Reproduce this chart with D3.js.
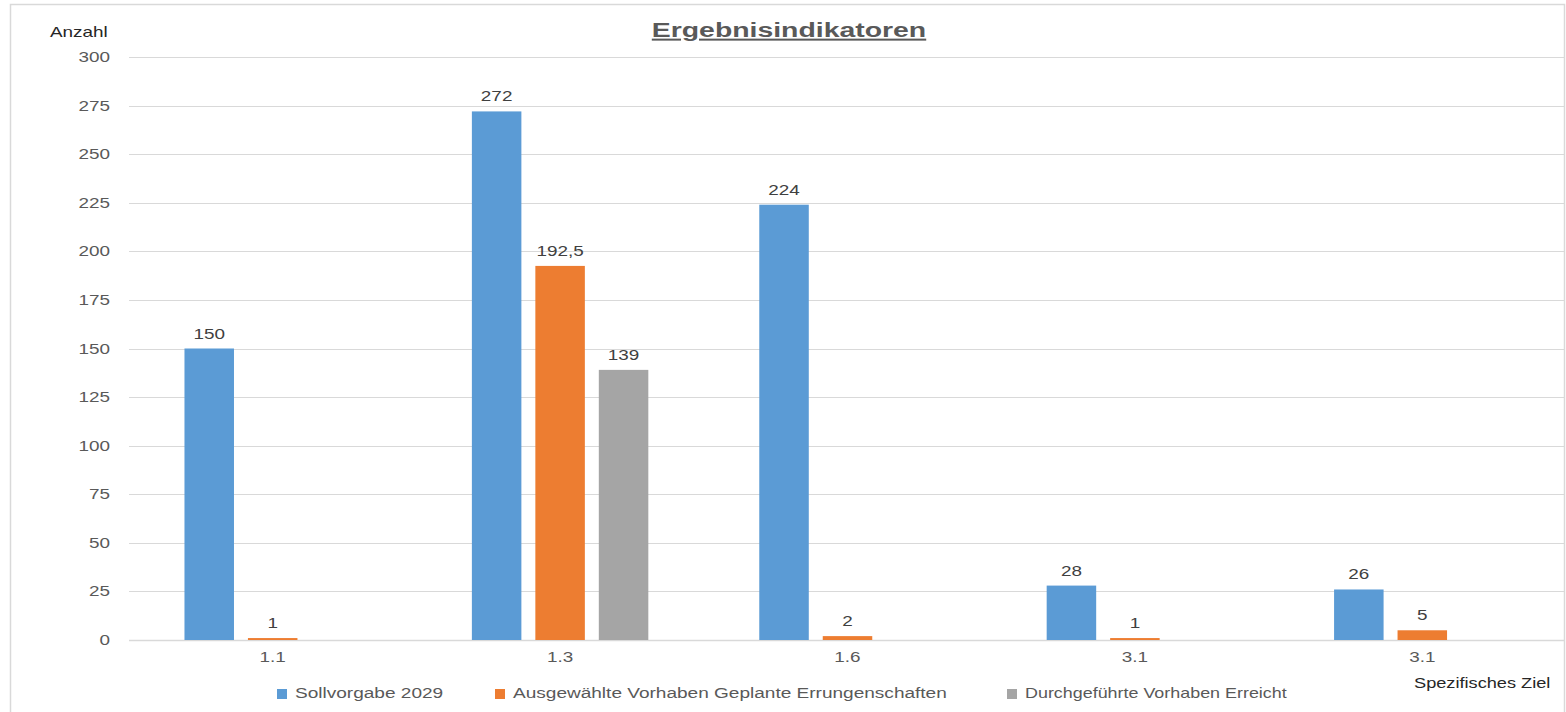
<!DOCTYPE html>
<html>
<head>
<meta charset="utf-8">
<script src="https://cdn.jsdelivr.net/npm/d3@7"></script>
<style>
  html, body { margin: 0; padding: 0; background: #fff; }
  svg { display: block; }
</style>
</head>
<body>
<script>
const categories = ["1.1", "1.3", "1.6", "3.1", "3.1"];
const seriesNames = ["Sollvorgabe 2029", "Ausgewählte Vorhaben Geplante Errungenschaften", "Durchgeführte Vorhaben Erreicht"];
const sollvorgabe = [150, 272, 224, 28, 26];
const geplant = [1, 192.5, 2, 1, 5];
const erreicht = [null, 139, null, null, null];
const yTicks = [0, 25, 50, 75, 100, 125, 150, 175, 200, 225, 250, 275, 300];
const colors = ["#5B9BD5", "#ED7D31", "#A5A5A5"];

const W = 1566, H = 712;
const SX = 1.35; // horizontal stretch of text in the reference
const FONT = "Liberation Sans, Arial, sans-serif";

const svg = d3.select("body").append("svg").attr("width", W).attr("height", H);

// chart border
svg.append("rect").attr("x", 10.5).attr("y", 4.5).attr("width", 1554).attr("height", 730)
  .attr("fill", "#fff").attr("stroke", "#d9d9d9").attr("stroke-width", 1.5);

function txt(x, y, s, opts) {
  const o = Object.assign({size: 14, fill: "#595959", anchor: "start", weight: "normal", sx: SX}, opts || {});
  const t = svg.append("text")
    .attr("transform", `translate(${x},${y}) scale(${o.sx},1)`)
    .attr("font-family", FONT).attr("font-size", o.size).attr("font-weight", o.weight)
    .attr("fill", o.fill).attr("text-anchor", o.anchor).text(s);
  if (o.underline) t.attr("text-decoration", "underline");
  return t;
}

const data = categories.map((c, i) => ({idx: i, cat: c, vals: [sollvorgabe[i], geplant[i], erreicht[i]]}));

const x0 = d3.scaleBand().domain(d3.range(categories.length)).range([129, 1566]).paddingInner(0).paddingOuter(0);
const x1 = d3.scaleBand().domain([0, 1, 2]).range([0, x0.bandwidth()]).paddingInner(0.22).paddingOuter(0.874);
const y = d3.scaleLinear().domain([0, 300]).range([640, 57]);

// gridlines
svg.append("g").selectAll("line").data(yTicks).join("line")
  .attr("x1", 129).attr("x2", 1564).attr("y1", d => Math.round(y(d)) + 0.5).attr("y2", d => Math.round(y(d)) + 0.5)
  .attr("stroke", "#d9d9d9").attr("stroke-width", d => d === 0 ? 1.5 : 1);

// y tick labels
yTicks.forEach(t => txt(110, y(t) + 5, String(t), {anchor: "end"}));

// bars
const fmt = v => String(v).replace(".", ",");
data.forEach(d => {
  d.vals.forEach((v, s) => {
    if (v == null) return;
    const bx = x0(d.idx) + x1(s);
    svg.append("rect").attr("x", bx).attr("y", y(v)).attr("width", x1.bandwidth())
      .attr("height", y(0) - y(v)).attr("fill", colors[s]);
    txt(bx + x1.bandwidth() / 2, y(v) - 10, fmt(v), {anchor: "middle", fill: "#404040"});
  });
});

// x tick labels
data.forEach(d => txt(x0(d.idx) + x0.bandwidth() / 2, 662, d.cat, {anchor: "middle"}));

// axis titles
txt(50, 37, "Anzahl", {fill: "#262626"});
txt(1414, 688, "Spezifisches Ziel", {fill: "#262626", sx: 1.3});

// title
txt(789, 37, "Ergebnisindikatoren", {anchor: "middle", size: 20, weight: "bold", underline: true, sx: 1.42});

// legend
const legendX = [277, 495, 1007];
const legendSX = [1.36, 1.36, 1.28];
seriesNames.forEach((n, i) => {
  svg.append("rect").attr("x", legendX[i]).attr("y", 689).attr("width", 10).attr("height", 10).attr("fill", colors[i]);
  txt(legendX[i] + 18, 698, n, {sx: legendSX[i]});
});
</script>
</body>
</html>
